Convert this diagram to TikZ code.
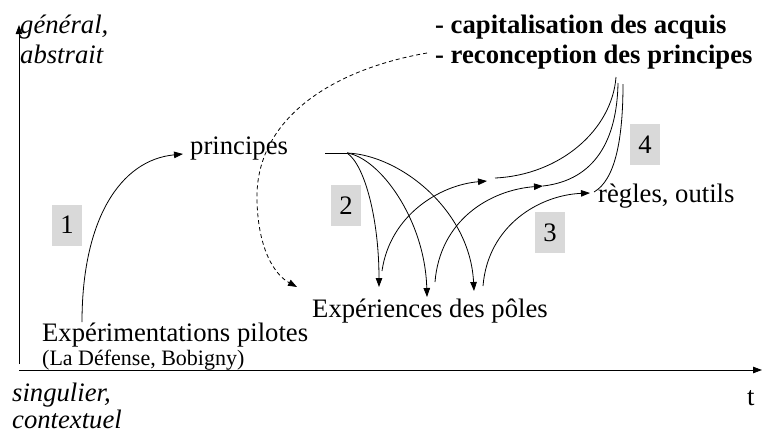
\documentclass[tikz,border=0pt]{standalone}
\usepackage{fontspec}
\setmainfont{Liberation Serif}
\usetikzlibrary{arrows.meta}
\definecolor{boxgray}{RGB}{217,217,217}
\begin{document}
\begin{tikzpicture}[x=1pt,y=-1pt,
  font=\fontsize{26.67}{30}\selectfont,
  lbl/.style={anchor=base west, inner sep=0pt},
  itlbl/.style={lbl, font=\fontsize{26.67}{30}\selectfont\itshape},
  bflbl/.style={lbl, font=\fontsize{26.67}{30}\selectfont\bfseries},
  numbox/.style={fill=boxgray, minimum width=30pt, minimum height=41pt, inner sep=0pt},
  conn/.style={line width=0.8pt},
  tip/.style={-{Triangle[length=9pt,width=6.5pt]}},
  dashconn/.style={conn, dashed, dash pattern=on 4pt off 3pt}]
\useasboundingbox (0,0) rectangle (762,434);

% axes
\coordinate (yorig) at (19,364);
\coordinate (ytop) at (19,25);
\coordinate (xorig) at (19,370);
\coordinate (xend) at (762,370);
\draw[conn,tip] (yorig) -- (ytop);
\draw[conn,tip] (xorig) -- (xend);

% axis labels
\node[itlbl] (gen1) at (20,33) {général,};
\node[itlbl] (gen2) at (20,63) {abstrait};
\node[itlbl] (sing1) at (12,401) {singulier,};
\node[itlbl] (sing2) at (12,428) {contextuel};
\node[lbl] (t) at (747,405) {t};

% bold labels
\node[bflbl] (cap) at (435,33) {- capitalisation des acquis};
\node[bflbl] (recon) at (435,63) {- reconception des principes};

% main labels
\node[lbl] (princ) at (190,154) {principes};
\node[lbl] (exppil) at (42,341) {Expérimentations pilotes};
\node[lbl, font=\fontsize{22}{26}\selectfont] (lieux) at (42,365) {(La Défense, Bobigny)};
\node[lbl] (exppol) at (312,317) {Expériences des pôles};
\node[lbl] (regles) at (598,202) {règles, outils};

% number boxes
\node[numbox] (n1) at (67,225) {1};
\node[numbox] (n2) at (346,205.5) {2};
\node[numbox] (n3) at (550,232.5) {3};
\node[numbox] (n4) at (645,144.5) {4};

% connector end points
\coordinate (a1s) at (82,322);
\coordinate (a1e) at (183,154);
\coordinate (ds) at (427,53);
\coordinate (dm) at (257,200);
\coordinate (de) at (297,287);
\coordinate (ps) at (325,153);
\coordinate (hub) at (347,153);
\coordinate (d1) at (379,287);
\coordinate (d2) at (427,297);
\coordinate (d3) at (474,291);
\coordinate (u1s) at (382,271);
\coordinate (u2s) at (435,282);
\coordinate (u3s) at (483,286);
\coordinate (u1e) at (487,181);
\coordinate (u2e) at (543,186);
\coordinate (u3e) at (590,193);
\coordinate (v1s) at (495,178);
\coordinate (v3s) at (594,192);
\coordinate (t1) at (616,77);
\coordinate (t2) at (618,83);
\coordinate (t3) at (623,84);

% arrow 1
\draw[conn,tip] (a1s) .. controls (82,220) and (120,160) .. (a1e);

% dashed arrow
\draw[dashconn,tip] (ds) .. controls (330,70) and (255,120) .. (dm)
  .. controls (258,250) and (275,275) .. (de);

% arrows 2
\draw[conn] (ps) -- (hub);
\draw[conn,tip] (hub) .. controls (365,165) and (379,220) .. (d1);
\draw[conn,tip] (hub) .. controls (380,158) and (425,220) .. (d2);
\draw[conn,tip] (hub) .. controls (400,155) and (470,210) .. (d3);

% arrows 3
\draw[conn,tip] (u1s) .. controls (390,215) and (440,185) .. (u1e);
\draw[conn,tip] (u2s) .. controls (440,220) and (490,190) .. (u2e);
\draw[conn,tip] (u3s) .. controls (488,225) and (540,195) .. (u3e);

% lines 4
\draw[conn] (v1s) .. controls (560,175) and (612,130) .. (t1);
\draw[conn] (u2e) .. controls (595,180) and (617,140) .. (t2);
\draw[conn] (v3s) .. controls (615,180) and (623,140) .. (t3);
\end{tikzpicture}
\end{document}
